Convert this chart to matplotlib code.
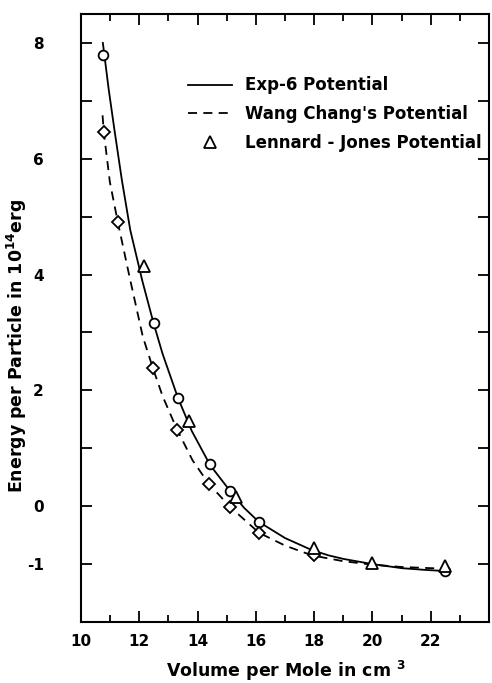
"""
Energy per particle vs. molar volume for three intermolecular potentials.
"""

import matplotlib
matplotlib.use("Agg")
import matplotlib.pyplot as plt
from matplotlib.ticker import MultipleLocator

# solid curve (Exp-6)
exp6_curve_x = [10.75, 10.95, 11.15, 11.4, 11.69, 12.10, 12.49, 12.8, 13.32, 13.8,
                14.43, 15.12, 15.6, 16.1, 17.0, 17.93, 18.5, 19.0, 20.0,
                21.0, 21.8, 22.5]
exp6_curve_y = [8.0, 7.2, 6.49, 5.64, 4.77, 3.90, 3.16, 2.63, 1.88, 1.30,
                0.71, 0.26, -0.03, -0.27, -0.55, -0.76, -0.85, -0.91, -1.0,
                -1.07, -1.10, -1.12]

# dashed curve (Wang Chang)
wang_curve_x = [10.74, 10.78, 10.99, 11.27, 11.67, 12.12, 12.47, 12.8, 13.29, 13.83,
                14.38, 15.11, 16.11, 17.0, 17.93, 19.0, 20.0, 21.0, 22.5]
wang_curve_y = [6.75, 6.47, 5.6, 4.89, 3.95, 2.93, 2.38, 1.90, 1.33, 0.79,
                0.39, -0.01, -0.46, -0.68, -0.85, -0.95, -1.01, -1.05, -1.08]

# computed points
exp6_pts_x = [10.76, 12.49, 13.32, 14.43, 15.12, 16.1, 22.5]
exp6_pts_y = [7.79, 3.16, 1.87, 0.72, 0.26, -0.28, -1.12]

wang_pts_x = [10.8, 11.27, 12.48, 13.29, 14.38, 15.11, 16.11, 18.0]
wang_pts_y = [6.47, 4.9, 2.38, 1.31, 0.39, -0.01, -0.46, -0.85]

lj_pts_x = [12.16, 13.72, 15.33, 17.99, 20.0, 22.5]
lj_pts_y = [4.15, 1.47, 0.16, -0.72, -0.98, -1.04]

yticks = list(range(-1, 9))
ytick_labels = ["-1", "0", "", "2", "", "4", "", "6", "", "8"]

plt.rcParams["font.family"] = ["DejaVu Sans"]
plt.rcParams["font.weight"] = "bold"

fig = plt.figure(figsize=(4.92, 6.83), dpi=100)
ax = fig.add_axes([81 / 492, 61 / 683, 408 / 492, 608 / 683])

ax.plot(exp6_curve_x, exp6_curve_y, color="black", lw=1.3, label="Exp-6 Potential")
ax.plot(wang_curve_x, wang_curve_y, color="black", lw=1.3, dashes=(5, 3.5),
        label="Wang Chang's Potential")
ax.plot(exp6_pts_x, exp6_pts_y, ls="none", marker="o", ms=7, mfc="white",
        mec="black", mew=1.3)
ax.plot(wang_pts_x, wang_pts_y, ls="none", marker="D", ms=6, mfc="white",
        mec="black", mew=1.3)
ax.plot(lj_pts_x, lj_pts_y, ls="none", marker="^", ms=8.5, mfc="white",
        mec="black", mew=1.3, label="Lennard - Jones Potential")

ax.set_xlim(10, 24)
ax.set_ylim(-2, 8.5)
ax.xaxis.set_major_locator(MultipleLocator(2))
ax.xaxis.set_minor_locator(MultipleLocator(1))
ax.set_xticks([10, 12, 14, 16, 18, 20, 22])
ax.set_yticks(yticks)
ax.set_yticklabels(ytick_labels)

ax.tick_params(which="both", direction="in", top=True, right=True, width=1.3)
ax.tick_params(which="major", length=8)
ax.tick_params(which="minor", length=5)
ax.tick_params(axis="x", labelsize=11, pad=9)
ax.tick_params(axis="y", labelsize=11, pad=27)
for s in ax.spines.values():
    s.set_linewidth(1.5)

fig.text(286 / 492, 1 - 671 / 683, r"Volume per Mole in cm $\mathregular{^3}$",
         ha="center", va="center", fontsize=12.5)
fig.text(17 / 492, 1 - 346 / 683, r"Energy per Particle in $\mathregular{10^{14}}$erg",
         ha="center", va="center", rotation=90, fontsize=12.5)

ax.legend(loc="upper left", bbox_to_anchor=(180 / 492, 1 - 68 / 683),
          bbox_transform=fig.transFigure, frameon=False, fontsize=12,
          handlelength=2.6, handletextpad=0.8, labelspacing=0.65, borderpad=0)

fig.savefig("out.png", dpi=100)
